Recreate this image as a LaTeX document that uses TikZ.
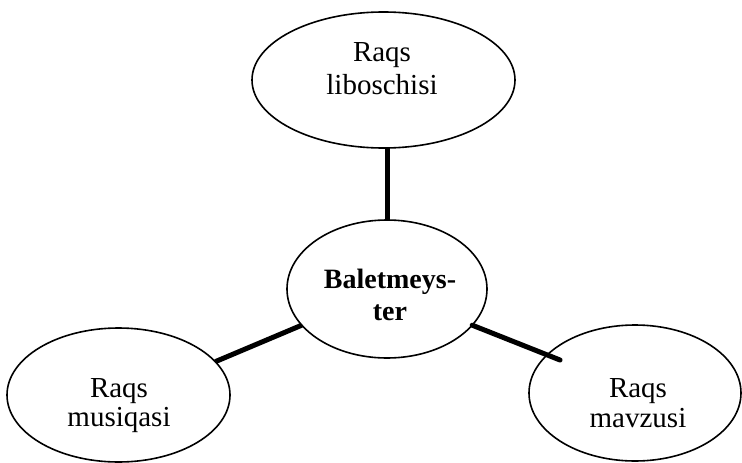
\documentclass[tikz,border=0pt]{standalone}
\usepackage{fontspec}
\setmainfont{Liberation Serif}
\usetikzlibrary{shapes.geometric}
\begin{document}
\begin{tikzpicture}[x=1pt,y=-1pt,
  oval/.style={ellipse, draw, line width=1.6pt, inner sep=0pt, outer sep=0pt},
  lbl/.style={align=center, inner sep=0pt},
  link/.style={line width=5pt}]
\useasboundingbox (0,0) rectangle (742,463);
\fill[white] (0,0) rectangle (742,463);
% ellipses
\node[oval, minimum width=263pt, minimum height=136pt] (top) at (383.5,80) {};
\node[oval, minimum width=200pt, minimum height=138pt] (mid) at (387,289) {};
\node[oval, minimum width=223pt, minimum height=134pt] (left) at (118.5,395) {};
\node[oval, minimum width=212pt, minimum height=136pt] (right) at (635,393) {};
% labels
\node[lbl, font=\fontsize{29}{33}\selectfont] (ttop) at (382,69) {Raqs\\liboschisi};
\node[lbl, font=\fontsize{28}{32}\selectfont\bfseries] (tmid) at (390,294.5) {Baletmeys-\\ter};
\node[lbl, font=\fontsize{29}{29}\selectfont] (tleft) at (119,406) {Raqs\\musiqasi};
\node[lbl, font=\fontsize{29}{30}\selectfont] (tright) at (638,403.5) {Raqs\\mavzusi};
% connectors
\coordinate (rend) at (560,360);
\draw[link] (mid.north) -- (mid.north |- top.south);
\draw[link] (mid.203.6) -- (left.19.2);
\draw[link, line cap=round] (mid.337.8) -- (rend);
\end{tikzpicture}
\end{document}
